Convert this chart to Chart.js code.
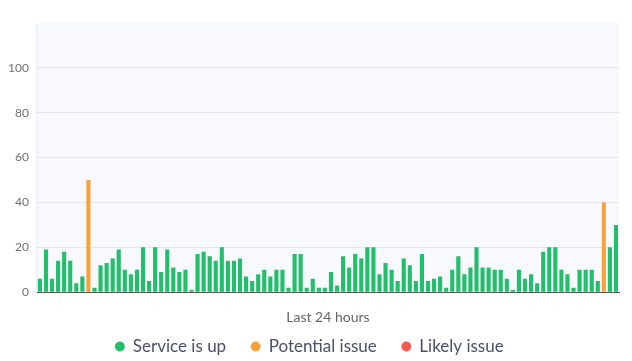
<!DOCTYPE html>
<html>
<head>
<meta charset="utf-8">
<script src="https://cdn.jsdelivr.net/npm/chart.js@4"></script>
<style>
  html, body { margin: 0; padding: 0; background: #fff; }
  #wrap { width: 632px; height: 361px; }
</style>
</head>
<body>
<div id="wrap"><canvas id="uptimeChart"></canvas></div>
<script>
// 96 slots of 15 minutes over the last 24 hours
const responseValues = [
  6, 19, 6, 14, 18, 14, 4, 7, 50, 2, 12, 13, 15, 19, 10, 8, 10, 20, 5, 20, 9, 19, 11, 9,
  10, 1, 17, 18, 16, 14, 20, 14, 14, 15, 7, 5, 8, 10, 7, 10, 10, 2, 17, 17, 2, 6,
  2, 2, 9, 3, 16, 11, 17, 15, 20, 20, 8, 13, 10, 5, 15, 12, 5, 17, 5, 6, 7, 2,
  10, 16, 8, 11, 20, 11, 11, 10, 10, 6, 1, 10, 6, 8, 4, 18, 20, 20, 10, 8, 2, 10,
  10, 10, 5, 40, 20, 30
];
// 0 = service up, 1 = potential issue, 2 = likely issue
const statusCodes = [
  0, 0, 0, 0, 0, 0, 0, 0, 1, 0, 0, 0, 0, 0, 0, 0, 0, 0, 0, 0, 0, 0, 0, 0,
  0, 0, 0, 0, 0, 0, 0, 0, 0, 0, 0, 0, 0, 0, 0, 0, 0, 0, 0, 0, 0, 0,
  0, 0, 0, 0, 0, 0, 0, 0, 0, 0, 0, 0, 0, 0, 0, 0, 0, 0, 0, 0, 0, 0,
  0, 0, 0, 0, 0, 0, 0, 0, 0, 0, 0, 0, 0, 0, 0, 0, 0, 0, 0, 0, 0, 0,
  0, 0, 0, 1, 0, 0
];
const statusNames = ["Service is up", "Potential issue", "Likely issue"];
const statusColors = ["#22bf6a", "#f9a23a", "#f25a55"];
const yTicks = [0, 20, 40, 60, 80, 100];

const slotLabels = responseValues.map((_, i) => {
  const m = i * 15;
  return String(Math.floor(m / 60)).padStart(2, "0") + ":" + String(m % 60).padStart(2, "0");
});

const datasets = statusNames.map((name, s) => ({
  label: name,
  data: responseValues.map((v, i) => statusCodes[i] === s ? v : null),
  backgroundColor: statusColors[s],
  borderWidth: 0,
  barPercentage: 0.68,
  categoryPercentage: 1
}));

// light background behind the plot area
const areaBg = {
  id: "areaBg",
  beforeDraw(chart) {
    const { ctx, chartArea: a } = chart;
    ctx.save();
    ctx.fillStyle = "#f7f9ff";
    ctx.fillRect(a.left, a.top, a.right - a.left, a.bottom - a.top);
    ctx.restore();
  }
};

new Chart(document.getElementById("uptimeChart"), {
  type: "bar",
  data: { labels: slotLabels, datasets },
  plugins: [areaBg],
  options: {
    responsive: true,
    maintainAspectRatio: false,
    animation: false,
    events: [],
    layout: { padding: { top: 23, right: 13, left: 0, bottom: -4 } },
    scales: {
      x: {
        stacked: true,
        grid: { display: false },
        border: { color: "#555", width: 1 },
        ticks: { display: false },
        title: {
          display: true,
          text: "Last 24 hours",
          color: "#666",
          font: { family: "Lato", size: 14 },
          padding: { top: 9, bottom: -13 }
        }
      },
      y: {
        stacked: true,
        min: 0,
        max: 120,
        afterBuildTicks(axis) { axis.ticks = yTicks.map(v => ({ value: v })); },
        grid: { color: "#e3e6ee", drawTicks: false },
        border: { color: "#e8ecf6" },
        ticks: { color: "#707070", font: { family: "Lato", size: 12 }, padding: 8 }
      }
    },
    plugins: {
      legend: {
        position: "bottom",
        labels: {
          usePointStyle: true,
          pointStyle: "circle",
          boxWidth: 9,
          boxHeight: 7,
          padding: 25,
          color: "#4a5068",
          font: { family: "Lato", size: 17 }
        }
      },
      tooltip: { enabled: false }
    }
  }
});
</script>
</body>
</html>
